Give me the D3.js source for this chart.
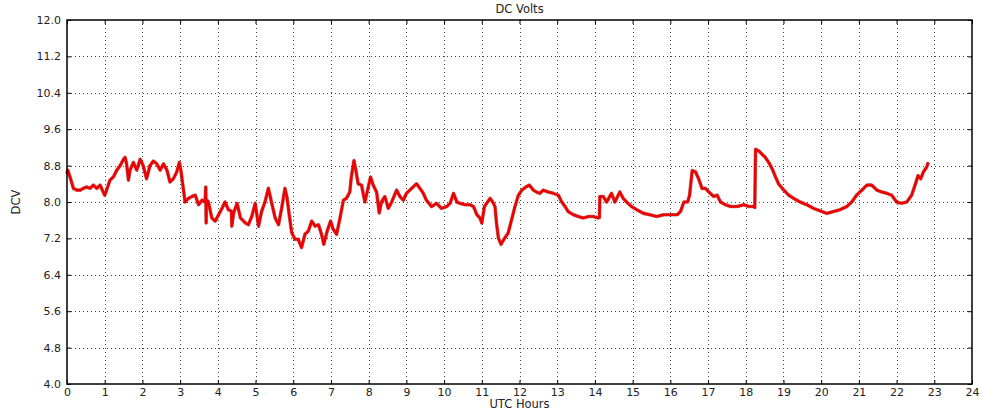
<!DOCTYPE html>
<html>
<head>
<meta charset="utf-8">
<script src="https://cdn.jsdelivr.net/npm/d3@7"></script>
<style>
  html, body { margin: 0; padding: 0; background: #fff; }
  svg { display: block; font-family: "DejaVu Sans", sans-serif; }
</style>
</head>
<body>
<svg id="chart" width="981" height="411"></svg>
<script>
const title = "DC Volts";
const xLabel = "UTC Hours";
const yLabel = "DCV";
const xTicks = [0,1,2,3,4,5,6,7,8,9,10,11,12,13,14,15,16,17,18,19,20,21,22,23,24];
const yTicks = [4.0,4.8,5.6,6.4,7.2,8.0,8.8,9.6,10.4,11.2,12.0];

const hours = [
0.00,0.02,0.08,0.17,0.26,0.35,0.43,0.52,0.61,0.70,0.79,0.88,0.96,1.00,1.05,1.14,1.23,1.32,1.41,1.50,
1.54,1.58,1.63,1.67,1.76,1.85,1.94,2.02,2.11,2.20,2.29,2.38,2.47,2.56,2.65,2.73,2.82,2.91,2.98,3.02,
3.09,3.13,3.22,3.31,3.40,3.49,3.58,3.66,3.68,3.69,3.70,3.75,3.84,3.93,4.02,4.11,4.19,4.28,4.36,4.37,
4.42,4.51,4.60,4.73,4.81,4.90,4.99,5.08,5.16,5.25,5.34,5.43,5.52,5.61,5.70,5.78,5.83,5.90,5.96,6.05,
6.13,6.22,6.31,6.40,6.49,6.58,6.67,6.75,6.81,6.90,6.99,7.06,7.15,7.24,7.33,7.41,7.50,7.54,7.61,7.66,
7.72,7.81,7.90,7.99,8.05,8.12,8.21,8.28,8.34,8.43,8.52,8.61,8.74,8.83,8.92,9.00,9.14,9.27,9.36,9.45,
9.53,9.67,9.80,9.93,10.07,10.16,10.25,10.34,10.42,10.56,10.69,10.78,10.87,10.95,11.00,11.07,11.13,11.22,11.29,11.35,
11.39,11.44,11.51,11.61,11.70,11.79,11.88,11.97,12.06,12.17,12.26,12.37,12.45,12.54,12.63,12.76,12.90,13.03,13.12,13.21,
13.29,13.43,13.56,13.69,13.83,13.96,14.09,14.12,14.13,14.22,14.31,14.44,14.53,14.66,14.75,14.84,14.97,15.11,15.29,15.46,
15.64,15.82,16.00,16.18,16.27,16.36,16.46,16.51,16.58,16.67,16.75,16.84,16.93,17.02,17.15,17.24,17.33,17.46,17.60,17.77,
17.95,18.08,18.20,18.24,18.26,18.35,18.43,18.52,18.61,18.70,18.79,18.87,19.01,19.14,19.27,19.44,19.62,19.80,20.02,20.15,
20.33,20.50,20.68,20.81,20.94,21.08,21.21,21.34,21.48,21.61,21.74,21.87,22.00,22.13,22.27,22.40,22.49,22.57,22.64,22.71,
22.80,22.84
];
const dcv = [
8.62,8.70,8.55,8.30,8.26,8.26,8.30,8.33,8.30,8.37,8.30,8.37,8.22,8.15,8.26,8.48,8.55,8.70,8.80,8.94,
8.98,8.84,8.48,8.70,8.87,8.70,8.94,8.80,8.51,8.80,8.90,8.84,8.70,8.84,8.70,8.44,8.51,8.66,8.87,8.70,
8.26,8.00,8.08,8.12,8.15,7.94,8.04,8.00,8.33,7.54,8.05,8.00,7.65,7.58,7.72,7.86,8.00,7.83,7.80,7.47,
7.76,7.97,7.65,7.54,7.50,7.68,7.97,7.47,7.79,8.00,8.30,7.97,7.65,7.50,7.90,8.30,8.12,7.68,7.32,7.18,
7.18,7.00,7.29,7.36,7.58,7.47,7.50,7.29,7.07,7.36,7.58,7.40,7.29,7.65,8.04,8.08,8.22,8.55,8.91,8.70,
8.40,8.37,8.00,8.33,8.55,8.37,8.22,7.76,8.00,8.12,7.86,8.00,8.26,8.12,8.04,8.19,8.30,8.40,8.30,8.19,
8.04,7.90,7.97,7.86,7.90,7.97,8.19,8.00,7.97,7.94,7.94,7.90,7.72,7.65,7.54,7.90,7.97,8.08,8.00,7.90,
7.54,7.21,7.07,7.21,7.32,7.61,7.90,8.15,8.26,8.33,8.37,8.26,8.22,8.19,8.26,8.22,8.19,8.15,8.00,7.90,
7.79,7.72,7.68,7.65,7.68,7.68,7.65,7.66,8.12,8.12,8.00,8.19,8.00,8.22,8.08,8.00,7.90,7.83,7.75,7.72,
7.68,7.72,7.72,7.72,7.79,8.00,8.00,8.15,8.69,8.66,8.51,8.30,8.30,8.22,8.12,8.15,8.00,7.94,7.90,7.90,
7.94,7.90,7.90,7.88,9.16,9.12,9.05,8.98,8.87,8.73,8.55,8.40,8.26,8.15,8.08,8.00,7.94,7.86,7.79,7.75,
7.79,7.83,7.90,8.00,8.15,8.26,8.37,8.37,8.26,8.22,8.19,8.15,8.00,7.97,8.00,8.15,8.37,8.58,8.51,8.66,
8.77,8.87
];

const svg = d3.select("#chart");
const L = 67, R = 972, T = 20, B = 384;
const x = d3.scaleLinear().domain([0, 24]).range([L, R]);
const y = d3.scaleLinear().domain([4, 12]).range([B, T]);

// grid
const grid = svg.append("g").attr("stroke", "#444").attr("stroke-width", 1).attr("stroke-dasharray", "1,3");
grid.selectAll("line.gx").data(xTicks.slice(1, -1)).join("line")
  .attr("x1", d => Math.round(x(d)) + 0.5).attr("x2", d => Math.round(x(d)) + 0.5)
  .attr("y1", T).attr("y2", B);
grid.selectAll("line.gy").data(yTicks.slice(1, -1)).join("line")
  .attr("y1", d => Math.round(y(d)) + 0.5).attr("y2", d => Math.round(y(d)) + 0.5)
  .attr("x1", L).attr("x2", R);

// data line
const pts = hours.map((h, i) => [h, dcv[i]]);
const line = d3.line().x(d => x(d[0])).y(d => y(d[1]));
svg.append("path").datum(pts)
  .attr("fill", "none").attr("stroke", "#8a1010").attr("stroke-width", 3.6)
  .attr("stroke-linejoin", "round").attr("opacity", 0.55).attr("d", line);
svg.append("path").datum(pts)
  .attr("fill", "none").attr("stroke", "#ee0000").attr("stroke-width", 2.6)
  .attr("stroke-linejoin", "round").attr("d", line);

// axes
const fs = 11;
const ax = (g) => { g.select(".domain").remove(); g.selectAll("line").attr("stroke", "#000"); g.selectAll("text").attr("font-size", fs).attr("fill", "#222").attr("font-family", "DejaVu Sans, sans-serif"); };
svg.append("g").attr("transform", `translate(0,${B})`)
  .call(d3.axisBottom(x).tickValues(xTicks).tickFormat(d3.format("d")).tickSize(-4).tickPadding(4)).call(ax);
svg.append("g").attr("transform", `translate(0,${T})`)
  .call(d3.axisTop(x).tickValues(xTicks).tickFormat("").tickSize(-4)).call(ax);
svg.append("g").attr("transform", `translate(${L},0)`)
  .call(d3.axisLeft(y).tickValues(yTicks).tickFormat(d3.format(".1f")).tickSize(-4).tickPadding(6)).call(ax);
svg.append("g").attr("transform", `translate(${R},0)`)
  .call(d3.axisRight(y).tickValues(yTicks).tickFormat("").tickSize(-4)).call(ax);

// frame
svg.append("rect").attr("x", L).attr("y", T).attr("width", R - L).attr("height", B - T)
  .attr("fill", "none").attr("stroke", "#000").attr("stroke-width", 1.5);

// labels
svg.append("text").attr("x", (L + R) / 2).attr("y", 13).attr("text-anchor", "middle")
  .attr("font-size", 11.5).attr("fill", "#222").text(title);
svg.append("text").attr("x", (L + R) / 2).attr("y", 408).attr("text-anchor", "middle")
  .attr("font-size", 11.5).attr("fill", "#222").text(xLabel);
svg.append("text").attr("transform", `translate(20,${(T + B) / 2}) rotate(-90)`).attr("text-anchor", "middle")
  .attr("font-size", 11.5).attr("fill", "#222").text(yLabel);
</script>
</body>
</html>
